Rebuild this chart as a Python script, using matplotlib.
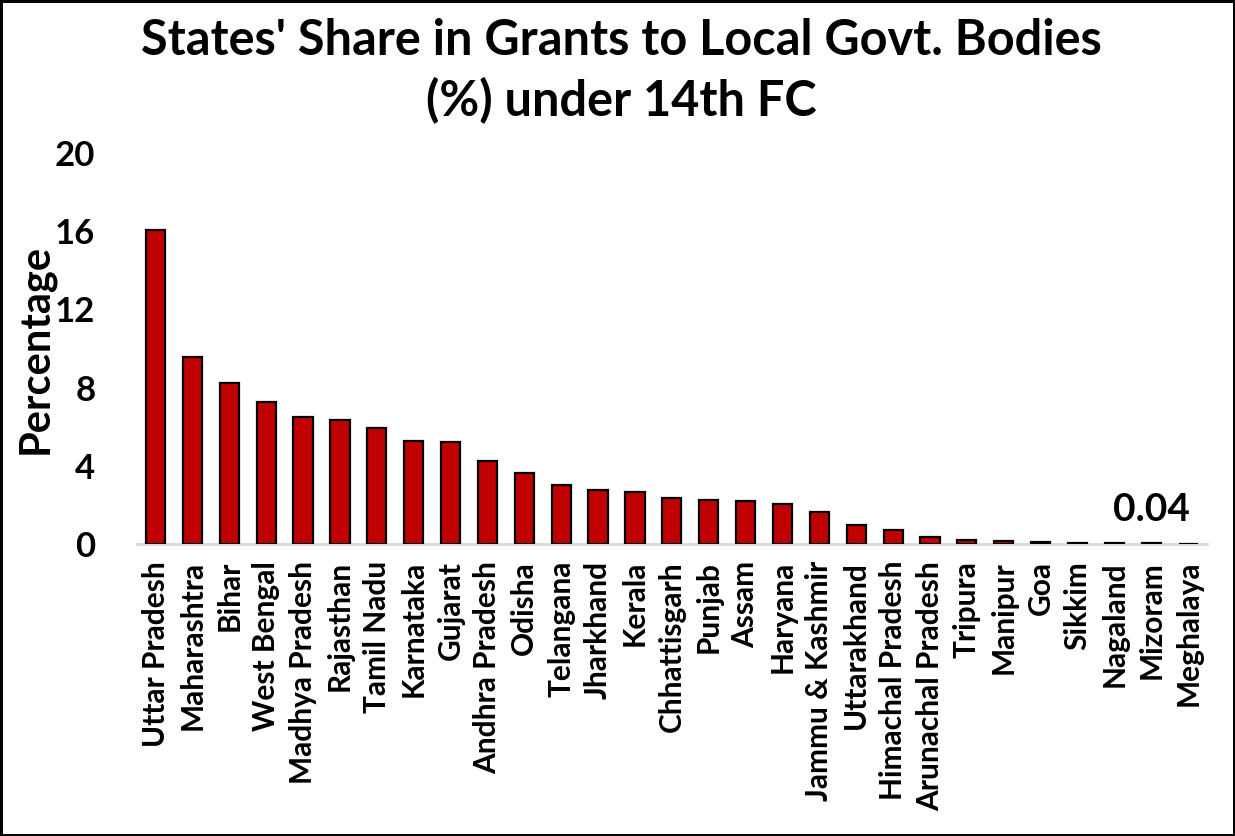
import matplotlib
matplotlib.use("Agg")
import matplotlib.pyplot as plt
import numpy as np

plt.rcParams['font.family'] = ['Lato', 'DejaVu Sans']
plt.rcParams['font.weight'] = 'bold'

states = ['Uttar Pradesh', 'Maharashtra', 'Bihar', 'West Bengal', 'Madhya Pradesh',
          'Rajasthan', 'Tamil Nadu', 'Karnataka', 'Gujarat', 'Andhra Pradesh',
          'Odisha', 'Telangana', 'Jharkhand', 'Kerala', 'Chhattisgarh', 'Punjab',
          'Assam', 'Haryana', 'Jammu & Kashmir', 'Uttarakhand', 'Himachal Pradesh',
          'Arunachal Pradesh', 'Tripura', 'Manipur', 'Goa', 'Sikkim', 'Nagaland',
          'Mizoram', 'Meghalaya']
share = [16.05, 9.58, 8.25, 7.25, 6.51, 6.33, 5.92, 5.28, 5.21, 4.28,
         3.66, 3.04, 2.75, 2.65, 2.37, 2.26, 2.21, 2.08, 1.67, 0.96,
         0.72, 0.37, 0.20, 0.15, 0.12, 0.08, 0.05, 0.04, 0.03]
labelled = 'Mizoram'
yticks = [0, 4, 8, 12, 16, 20]

fig = plt.figure(figsize=(12.35, 8.36), dpi=100)
fig.patch.set_edgecolor('black')
fig.patch.set_linewidth(2.5)
ax = fig.add_axes([0.111, 0.349, 0.866, 0.468])

x = np.arange(len(states))
ax.bar(x, share, width=0.52, color='#C00000', edgecolor='black', linewidth=1.6, zorder=3)

i = states.index(labelled)
ax.annotate(f'{share[i]:.2f}', (x[i], share[i]), xytext=(0, 12), textcoords='offset points',
            ha='center', va='bottom', fontsize=28, fontweight='bold')

ax.set_xlim(-0.5, len(states) - 0.5)
ax.set_ylim(0, 20)
ax.set_yticks(yticks)
ax.set_xticks(x)
ax.set_xticklabels(states, rotation=90, fontsize=21.5, fontweight='bold')
ax.tick_params(axis='y', labelsize=25, length=0, pad=30)
ax.tick_params(axis='x', length=0, pad=12)
for s in ['top', 'right', 'left']:
    ax.spines[s].set_visible(False)
ax.spines['bottom'].set_color('#d9d9d9')
ax.spines['bottom'].set_linewidth(2)
ax.set_ylabel('Percentage', fontsize=30, fontweight='bold')
ax.yaxis.set_label_coords(-0.077, 0.5)

fig.text(0.503, 0.952, "States' Share in Grants to Local Govt. Bodies",
         ha='center', va='center', fontsize=35, fontweight='bold')
fig.text(0.503, 0.880, "(%) under 14th FC",
         ha='center', va='center', fontsize=35, fontweight='bold')

fig.savefig('out.png', dpi=100, edgecolor=fig.get_edgecolor())
